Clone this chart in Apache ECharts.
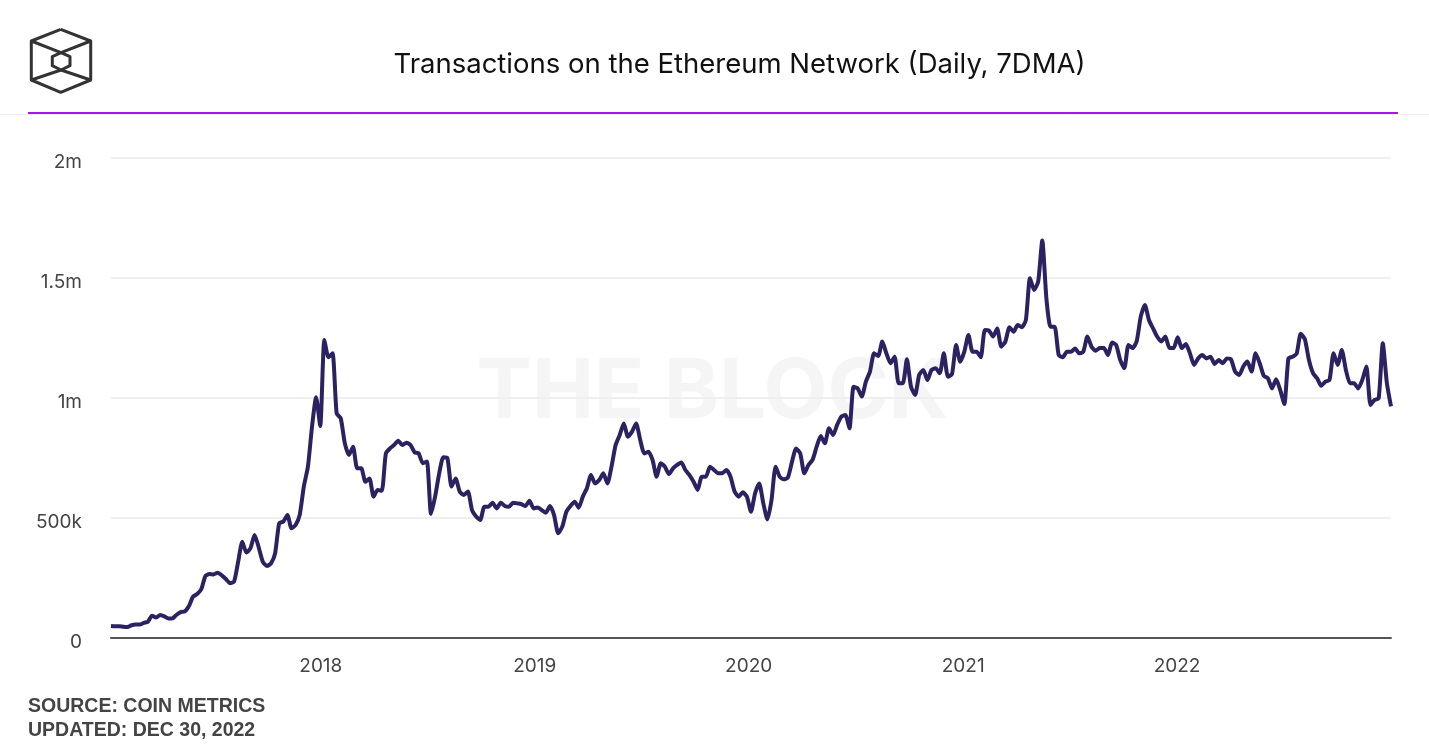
<!DOCTYPE html>
<html>
<head>
<meta charset="utf-8">
<title>Transactions on the Ethereum Network</title>
<style>
  html, body { margin: 0; padding: 0; background: #fff; }
  #chart { width: 1429px; height: 750px; }
</style>
<script src="https://cdn.jsdelivr.net/npm/echarts@6/dist/echarts.min.js"></script>
</head>
<body>
<div id="chart"></div>
<script>
// weekly readings, in thousands of transactions, starting 2017-01-08
var firstDay = '2017-01-08';
var values2017 = [50, 49, 49, 47, 46, 53, 56, 56, 63, 68, 93, 85, 96, 90, 81, 82, 97, 108, 111, 133, 172, 183, 203, 258, 267, 265, 272, 261, 246, 228, 235, 318, 401, 356, 374, 429, 378, 318, 300, 311, 353, 478, 485, 513, 457, 471, 513, 631, 714, 881, 1003, 883];
var values2018 = [1242, 1170, 1186, 936, 915, 811, 763, 797, 707, 707, 651, 665, 589, 617, 614, 769, 790, 804, 822, 804, 814, 804, 774, 769, 728, 735, 517, 589, 686, 753, 749, 631, 665, 610, 596, 610, 533, 506, 492, 547, 547, 564, 540, 564, 550, 547, 564, 561, 558, 550, 572, 540];
var values2019 = [544, 533, 522, 550, 512, 436, 464, 526, 550, 568, 543, 589, 624, 679, 644, 658, 686, 644, 714, 804, 846, 894, 839, 860, 894, 825, 769, 776, 742, 672, 728, 714, 683, 707, 721, 731, 700, 679, 651, 617, 672, 672, 714, 700, 686, 686, 700, 672, 610, 589, 607, 589];
var values2020 = [526, 603, 644, 561, 494, 575, 714, 672, 661, 669, 735, 790, 769, 686, 721, 742, 797, 842, 811, 874, 846, 888, 922, 929, 874, 1047, 1040, 1006, 1068, 1110, 1186, 1175, 1235, 1186, 1145, 1172, 1061, 1061, 1161, 1047, 1013, 1096, 1117, 1075, 1117, 1124, 1103, 1186, 1089, 1100, 1221, 1151];
var values2021 = [1193, 1263, 1193, 1193, 1170, 1283, 1281, 1256, 1290, 1214, 1235, 1295, 1276, 1304, 1295, 1325, 1499, 1450, 1485, 1656, 1415, 1297, 1297, 1179, 1170, 1193, 1193, 1206, 1186, 1193, 1256, 1214, 1197, 1208, 1208, 1179, 1231, 1221, 1158, 1124, 1221, 1208, 1235, 1339, 1388, 1325, 1290, 1256, 1235, 1256, 1208, 1208];
var values2022 = [1253, 1208, 1225, 1186, 1138, 1165, 1179, 1165, 1172, 1142, 1158, 1145, 1165, 1161, 1110, 1096, 1131, 1152, 1110, 1186, 1145, 1092, 1082, 1040, 1078, 1033, 975, 1165, 1172, 1185, 1268, 1245, 1158, 1103, 1082, 1051, 1068, 1075, 1186, 1138, 1200, 1117, 1061, 1061, 1040, 1075, 1131, 971, 992, 999, 1228, 1061, 965];
var yTicks = { 0: '0', 500000: '500k', 1000000: '1m', 1500000: '1.5m', 2000000: '2m' };

var DAY = 24 * 3600 * 1000;
var start = Date.parse(firstDay + 'T00:00:00Z');
var weekly = [].concat(values2017, values2018, values2019, values2020, values2021, values2022);
var seriesData = weekly.map(function (v, i) {
    return [start + i * 7 * DAY, v * 1000];
});

var chart = echarts.init(document.getElementById('chart'));

// logo outline, drawn as plain polylines
function logoLine(points) {
    return {
        type: 'polyline',
        shape: { points: points },
        style: { stroke: '#333', lineWidth: 3, fill: null, lineJoin: 'round' }
    };
}

var option = {
    animation: false,
    backgroundColor: '#fff',

    // Setup grid
    grid: { left: 111, right: 38, top: 158, bottom: 112 },

    title: {
        text: 'Transactions on the Ethereum Network (Daily, 7DMA)',
        left: 734.5,
        top: 46,
        textAlign: 'center',
        textStyle: { fontFamily: 'Inter', fontSize: 27.5, fontWeight: 400, color: '#111' }
    },

    // Horizontal axis
    xAxis: {
        type: 'time',
        min: start,
        max: start + (weekly.length - 1) * 7 * DAY,
        minInterval: 360 * DAY,
        axisLine: { lineStyle: { color: '#555', width: 2 } },
        axisTick: { show: false },
        splitLine: { show: false },
        axisLabel: {
            margin: 19,
            fontFamily: 'Inter',
            fontSize: 19,
            color: '#444',
            showMinLabel: false,
            showMaxLabel: false,
            formatter: function (value) {
                var d = new Date(value);
                return d.getUTCMonth() === 0 && d.getUTCDate() === 1 ? String(d.getUTCFullYear()) : '';
            }
        }
    },

    // Vertical axis
    yAxis: {
        type: 'value',
        min: 0,
        max: 2000000,
        interval: 500000,
        axisLine: { show: false },
        axisTick: { show: false },
        splitLine: { lineStyle: { color: '#efefef', width: 2 } },
        axisLabel: {
            margin: 29,
            verticalAlign: 'top',
            lineHeight: 9,
            fontFamily: 'Inter',
            fontSize: 19,
            color: '#444',
            formatter: function (value) { return yTicks[value]; }
        }
    },

    // Add series
    series: [{
        type: 'line',
        data: seriesData,
        showSymbol: false,
        smooth: 0.2,
        z: 5,
        lineStyle: { color: '#2a2261', width: 4, join: 'round' }
    }],

    graphic: [
        { type: 'line', z: -2, shape: { x1: 0, y1: 114.5, x2: 1429, y2: 114.5 }, style: { stroke: '#eeeeee', lineWidth: 1 } },
        { type: 'line', z: 3, shape: { x1: 28, y1: 113, x2: 1398, y2: 113 }, style: { stroke: '#a915e6', lineWidth: 2 } },
        { type: 'text', z: -1, x: 712.5, y: 393, style: { text: 'THE BLOCK', fontFamily: 'Inter', fontWeight: 700, fontSize: 83, fill: '#f5f5f5', align: 'center', verticalAlign: 'middle' } },
        { type: 'text', x: 28, y: 697, style: { text: 'SOURCE: COIN METRICS', fontFamily: 'Liberation Sans', fontWeight: 700, fontSize: 19.5, fill: '#444' } },
        { type: 'text', x: 28, y: 721, style: { text: 'UPDATED: DEC 30, 2022', fontFamily: 'Liberation Sans', fontWeight: 700, fontSize: 19.5, fill: '#444' } },
        logoLine([[60.7, 29.3], [90.7, 41], [90.7, 80], [60.7, 92.3], [31.3, 80], [31.3, 41], [60.7, 29.3]]),
        logoLine([[61, 52.7], [70, 56.7], [70, 65.7], [61, 70], [52.3, 65.7], [52.3, 56.7], [61, 52.7]]),
        logoLine([[31.3, 41], [61, 52.7], [90.7, 41]]),
        logoLine([[31.3, 80], [61, 70], [90.7, 80]])
    ]
};

chart.setOption(option);
</script>
</body>
</html>
